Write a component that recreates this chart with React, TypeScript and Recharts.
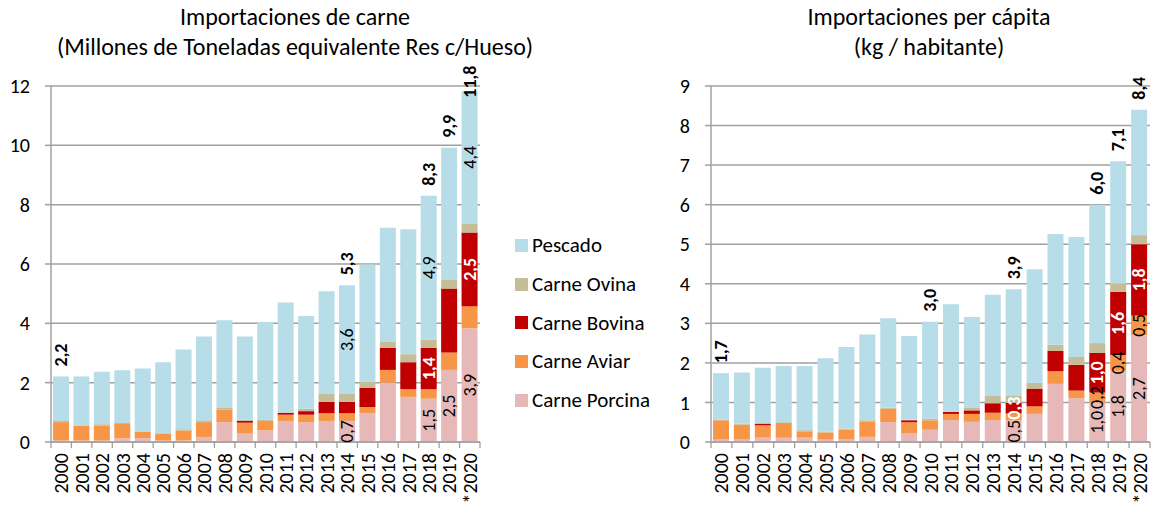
import React from "react";
import { BarChart, Bar, XAxis, YAxis, CartesianGrid, LabelList } from "recharts";

const years = ["2000","2001","2002","2003","2004","2005","2006","2007","2008","2009","2010","2011","2012","2013","2014","2015","2016","2017","2018","2019","*2020"];

// Left chart: million tonnes
const leftPorcina = [0.05,0.05,0.05,0.13,0.13,0.05,0.05,0.17,0.67,0.28,0.39,0.71,0.66,0.71,0.71,0.98,2.0,1.52,1.46,2.43,3.83];
const leftAviar = [0.62,0.49,0.51,0.48,0.21,0.23,0.34,0.5,0.43,0.37,0.32,0.21,0.26,0.26,0.26,0.2,0.43,0.26,0.32,0.59,0.75];
const leftBovina = [0,0,0,0,0,0,0,0,0,0.06,0,0.06,0.12,0.38,0.38,0.64,0.74,0.91,1.39,2.15,2.48];
const leftOvina = [0.04,0.02,0.04,0.03,0.02,0.02,0.04,0.04,0.05,0.04,0.05,0.02,0.08,0.27,0.27,0.22,0.22,0.27,0.28,0.31,0.31];
const leftPescado = [1.5,1.65,1.77,1.78,2.12,2.39,2.69,2.85,2.95,2.81,3.28,3.7,3.13,3.46,3.66,3.94,3.83,4.21,4.85,4.44,4.45];

const leftTotalLabels = [2.2,null,null,null,null,null,null,null,null,null,null,null,null,null,5.3,null,null,null,8.3,9.9,11.8];
const leftPorcinaLabels = [null,null,null,null,null,null,null,null,null,null,null,null,null,null,0.7,null,null,null,1.5,2.5,3.9];
const leftBovinaLabels = [null,null,null,null,null,null,null,null,null,null,null,null,null,null,null,null,null,null,1.4,null,2.5];
const leftPescadoLabels = [null,null,null,null,null,null,null,null,null,null,null,null,null,null,3.6,null,null,null,4.9,null,4.4];
const leftAviarLabels = years.map(() => null);

// Right chart: kg per capita
const rightPorcina = [0.06,0.06,0.11,0.11,0.11,0.06,0.06,0.13,0.5,0.23,0.31,0.55,0.51,0.55,0.55,0.71,1.47,1.11,1.0,1.8,2.7];
const rightAviar = [0.49,0.38,0.31,0.37,0.16,0.18,0.25,0.39,0.34,0.27,0.24,0.16,0.2,0.19,0.17,0.19,0.32,0.19,0.25,0.4,0.5];
const rightBovina = [0,0,0.04,0,0,0,0,0,0,0.05,0,0.05,0.09,0.24,0.27,0.45,0.51,0.65,1.0,1.6,1.8];
const rightOvina = [0.02,0.02,0.02,0.02,0.03,0.02,0.03,0.03,0.03,0.02,0.04,0.01,0.06,0.2,0.19,0.15,0.16,0.2,0.25,0.2,0.23];
const rightPescado = [1.17,1.3,1.4,1.42,1.62,1.86,2.06,2.17,2.26,2.11,2.45,2.71,2.3,2.54,2.68,2.87,2.8,3.03,3.5,3.1,3.17];

const rightTotalLabels = [1.7,null,null,null,null,null,null,null,null,null,3.0,null,null,null,3.9,null,null,null,6.0,7.1,8.4];
const rightPorcinaLabels = [null,null,null,null,null,null,null,null,null,null,null,null,null,null,0.5,null,null,null,1.0,1.8,2.7];
const rightAviarLabels = [null,null,null,null,null,null,null,null,null,null,null,null,null,null,null,null,null,null,0.2,0.4,0.5];
const rightBovinaLabels = [null,null,null,null,null,null,null,null,null,null,null,null,null,null,0.3,null,null,null,1.0,1.6,1.8];
const rightPescadoLabels = years.map(() => null);

const leftTicks = [0,2,4,6,8,10,12];
const rightTicks = [0,1,2,3,4,5,6,7,8,9];

const seriesNames = ["Carne Porcina","Carne Aviar","Carne Bovina","Carne Ovina","Pescado"];
const seriesColors = ["#E6B9B8","#F79646","#C00000","#C4BD97","#B7DDE8"];

const FONT = "Carlito, Lato, 'Liberation Sans', sans-serif";
const GRID = "#A0A0A0";
const Y_W = 51;

const fmt = (v: number) => v.toFixed(1).replace(".", ",");

function buildRows(p: number[], a: number[], b: number[], o: number[], f: number[]) {
  return years.map((y, i) => ({ year: y, porcina: p[i], aviar: a[i], bovina: b[i], ovina: o[i], pescado: f[i] }));
}

function idxFromX(x: number, width: number, band: number) {
  return Math.floor((x + width / 2 - Y_W) / band);
}

function innerLabel(labels: (number | null)[], color: string, bold: boolean, band: number) {
  return (props: any) => {
    const { x, y, width, height } = props;
    const index = idxFromX(x, width, band);
    const v = labels[index];
    if (v == null) return null;
    const cx = x + width / 2;
    const cy = y + height / 2;
    return (
      <text x={cx} y={cy} transform={`rotate(-90 ${cx} ${cy})`} textAnchor="middle" dominantBaseline="central"
        fill={color} fontWeight={bold ? 700 : 400} fontSize={18} fontFamily={FONT}>
        {fmt(v)}
      </text>
    );
  };
}

function totalLabel(labels: (number | null)[], topLimit: number, band: number) {
  return (props: any) => {
    const { x, y, width } = props;
    const index = idxFromX(x, width, band);
    const v = labels[index];
    if (v == null) return null;
    const txt = fmt(v);
    const len = (txt.length - 1) * 10.4 + 4.5;
    const cx = x + width / 2;
    const start = Math.max(y - 10, topLimit + len);
    return (
      <text x={cx} y={start} transform={`rotate(-90 ${cx} ${start})`} textAnchor="start" dominantBaseline="central"
        fill="#000" fontWeight={700} fontSize={18} fontFamily={FONT}>
        {txt}
      </text>
    );
  };
}

function makeXTick(bottom: number, band: number, lastIndex: number) {
  return (props: any) => {
    const { x, payload, index } = props;
    const ty = bottom + 11;
    return (
      <g>
        <line x1={x - band / 2} x2={x - band / 2} y1={bottom} y2={bottom + 6} stroke={GRID} strokeWidth={1.3} />
        {index === lastIndex && <line x1={x + band / 2} x2={x + band / 2} y1={bottom} y2={bottom + 6} stroke={GRID} strokeWidth={1.3} />}
        <text x={x} y={ty} transform={`rotate(-90 ${x} ${ty})`} textAnchor="end" dominantBaseline="central"
          fill="#000" fontSize={20} fontFamily={FONT}>
          {payload.value}
        </text>
      </g>
    );
  };
}

type ChartProps = {
  rows: any[];
  width: number;
  rightMargin: number;
  ticks: number[];
  max: number;
  totals: (number | null)[];
  porcinaL: (number | null)[];
  aviarL: (number | null)[];
  bovinaL: (number | null)[];
  pescadoL: (number | null)[];
};

function StackChart({ rows, width, rightMargin, ticks, max, totals, porcinaL, aviarL, bovinaL, pescadoL }: ChartProps) {
  const top = 86;
  const height = 510;
  const bottom = 442;
  const band = (width - Y_W - rightMargin) / years.length;
  return (
    <BarChart width={width} height={height} data={rows} margin={{ top, right: rightMargin, left: 0, bottom: 0 }} barSize={16}>
      <CartesianGrid vertical={false} stroke={GRID} strokeWidth={1.5} />
      <XAxis dataKey="year" interval={0} height={height - bottom} axisLine={{ stroke: GRID, strokeWidth: 1.5 }} tickLine={false}
        tick={makeXTick(bottom, band, years.length - 1)} />
      <YAxis width={Y_W} domain={[0, max]} ticks={ticks} interval={0} axisLine={{ stroke: GRID, strokeWidth: 1.5 }}
        tickLine={{ stroke: GRID, strokeWidth: 1.5 }} tickSize={6} tickMargin={15}
        tick={{ fill: "#000", fontSize: 20, fontFamily: FONT }} />
      <Bar dataKey="porcina" stackId="s" fill={seriesColors[0]} isAnimationActive={false}>
        <LabelList dataKey="porcina" content={innerLabel(porcinaL, "#000", false, band)} />
      </Bar>
      <Bar dataKey="aviar" stackId="s" fill={seriesColors[1]} isAnimationActive={false}>
        <LabelList dataKey="aviar" content={innerLabel(aviarL, "#000", false, band)} />
      </Bar>
      <Bar dataKey="bovina" stackId="s" fill={seriesColors[2]} isAnimationActive={false}>
        <LabelList dataKey="bovina" content={innerLabel(bovinaL, "#fff", true, band)} />
      </Bar>
      <Bar dataKey="ovina" stackId="s" fill={seriesColors[3]} isAnimationActive={false} />
      <Bar dataKey="pescado" stackId="s" fill={seriesColors[4]} isAnimationActive={false}>
        <LabelList dataKey="pescado" content={innerLabel(pescadoL, "#000", false, band)} />
        <LabelList dataKey="pescado" content={totalLabel(totals, 62, band)} />
      </Bar>
    </BarChart>
  );
}

export default function App() {
  const leftRows = buildRows(leftPorcina, leftAviar, leftBovina, leftOvina, leftPescado);
  const rightRows = buildRows(rightPorcina, rightAviar, rightBovina, rightOvina, rightPescado);
  const titleStyle: React.CSSProperties = {
    position: "absolute", textAlign: "center", fontFamily: FONT, fontSize: 24, lineHeight: "30px", color: "#000", whiteSpace: "nowrap",
  };
  return (
    <div style={{ position: "absolute", left: 0, top: 0, width: 1154, height: 510, background: "#fff", overflow: "hidden" }}>
      <div style={{ ...titleStyle, left: 0, top: 2, width: 590 }}>
        <div>Importaciones de carne</div>
        <div>(Millones de Toneladas equivalente Res c/Hueso)</div>
      </div>
      <div style={{ ...titleStyle, left: 704, top: 2, width: 450 }}>
        <div>Importaciones per cápita</div>
        <div>(kg / habitante)</div>
      </div>
      <div style={{ position: "absolute", left: 0, top: 0 }}>
        <StackChart rows={leftRows} width={490} rightMargin={10} ticks={leftTicks} max={12}
          totals={leftTotalLabels} porcinaL={leftPorcinaLabels} aviarL={leftAviarLabels} bovinaL={leftBovinaLabels} pescadoL={leftPescadoLabels} />
      </div>
      <div style={{ position: "absolute", left: 660, top: 0 }}>
        <StackChart rows={rightRows} width={494} rightMargin={4} ticks={rightTicks} max={9}
          totals={rightTotalLabels} porcinaL={rightPorcinaLabels} aviarL={rightAviarLabels} bovinaL={rightBovinaLabels} pescadoL={rightPescadoLabels} />
      </div>
      <div style={{ position: "absolute", left: 515, top: 226, fontFamily: FONT, fontSize: 21 }}>
        {seriesNames.map((n, i) => seriesNames.length - 1 - i).map((k) => (
          <div key={seriesNames[k]} style={{ display: "flex", alignItems: "center", height: 38.7, whiteSpace: "nowrap" }}>
            <span style={{ display: "inline-block", width: 13, height: 13, background: seriesColors[k], marginRight: 4 }} />
            <span>{seriesNames[k]}</span>
          </div>
        ))}
      </div>
    </div>
  );
}
